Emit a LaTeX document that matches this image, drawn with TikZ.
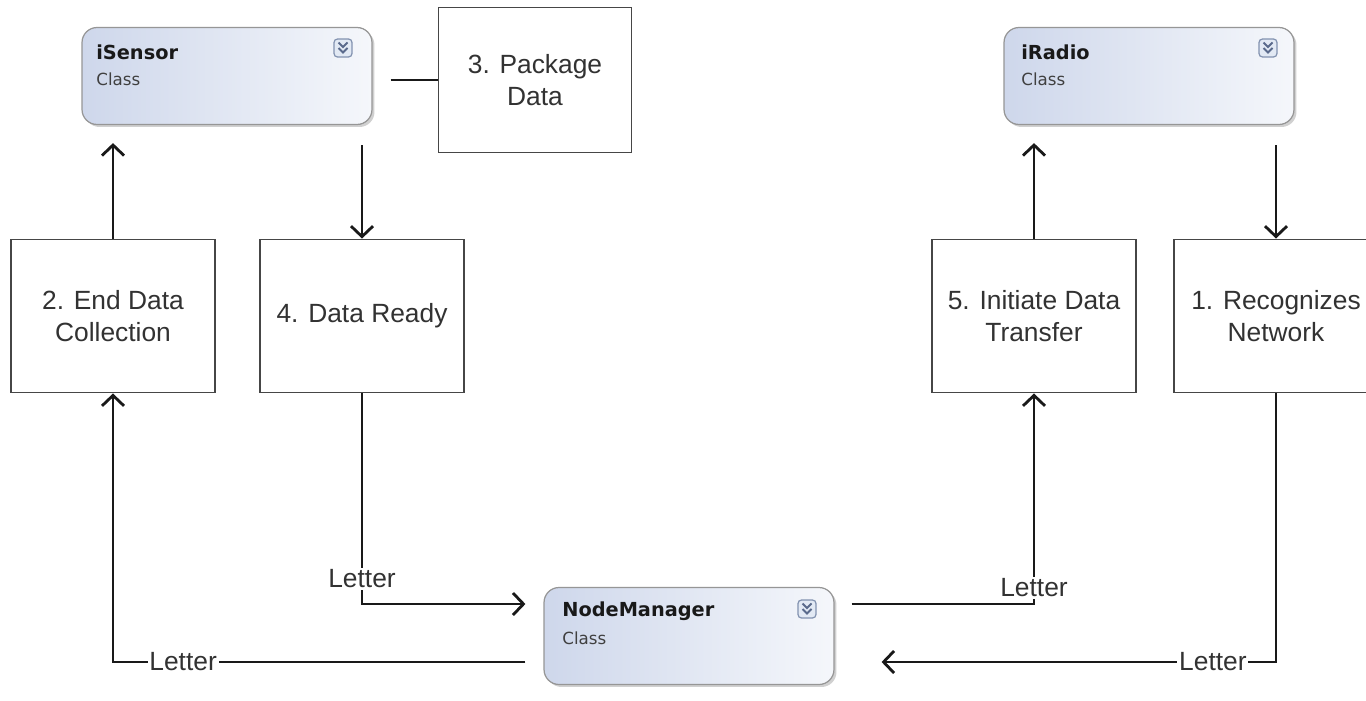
\documentclass[tikz,border=0pt]{standalone}
\usepackage{fontspec}
\setmainfont{Liberation Sans}
\newfontfamily\classfont{DejaVu Sans}
\usetikzlibrary{arrows.meta,calc,shadows}

\definecolor{clsleft}{RGB}{206,215,235}
\definecolor{clsright}{RGB}{245,247,251}
\definecolor{clsborder}{RGB}{150,150,150}
\definecolor{boxborder}{RGB}{70,70,70}
\definecolor{labeltext}{RGB}{50,50,50}
\definecolor{iconfill}{RGB}{226,233,244}
\definecolor{iconline}{RGB}{130,146,176}
\definecolor{iconmark}{RGB}{90,106,140}

\tikzset{
  classbox/.style={rectangle, rounded corners=0.3cm, draw=clsborder, line width=0.7pt,
    left color=clsleft, right color=clsright, minimum width=5.8cm, minimum height=1.94cm,
    drop shadow={shadow xshift=0.05cm, shadow yshift=-0.05cm, opacity=0.3, fill=black!60}},
  classname/.style={anchor=west, inner sep=0pt, text=black!90,
    font=\classfont\bfseries\fontsize{11}{13}\selectfont},
  classkind/.style={anchor=west, inner sep=0pt, text=black!75,
    font=\classfont\fontsize{9.5}{11}\selectfont},
  stepbox/.style={rectangle, draw=boxborder, line width=1.1pt, fill=white,
    minimum width=4.08cm, minimum height=3.06cm, align=center, text=labeltext,
    font=\fontsize{15}{18}\selectfont},
  letter/.style={fill=white, inner sep=1pt, text=labeltext, font=\fontsize{15}{18}\selectfont},
  flow/.style={line width=1.6pt, draw=black!90},
  expander/.pic={
    \draw[rounded corners=0.07cm, fill=iconfill, draw=iconline, line width=0.7pt] (-9,-9) rectangle (9,9);
    \draw[iconmark, line width=1.1pt] (-4.5,-5.5) -- (0,-1) -- (4.5,-5.5) (-4.5,0) -- (0,4.5) -- (4.5,0);
  }
}

\begin{document}
\begin{tikzpicture}[x=0.02cm, y=-0.02cm, >={Straight Barb[length=0.21cm, width=0.44cm]}]
    \useasboundingbox (0,0) rectangle (1366,700);
    \fill[white] (0,0) rectangle (1366,700);

    % classes
    \node[classbox] (sensor) at (227,76) {};
    \node[classname] (sensorname) at (96,52) {iSensor};
    \node[classkind] (sensorkind) at (96,79) {Class};
    \pic at (343,48) {expander};

    \node[classbox] (radio) at (1149,76) {};
    \node[classname] (radioname) at (1021,52) {iRadio};
    \node[classkind] (radiokind) at (1021,79) {Class};
    \pic at (1268,48) {expander};

    \node[classbox] (manager) at (689,636) {};
    \node[classname] (managername) at (562,611) {NodeManager};
    \node[classkind] (managerkind) at (562,638) {Class};
    \pic at (807,609) {expander};

    % steps
    \node[stepbox, minimum width=3.86cm, minimum height=2.9cm] (pack) at (535,80) {3. Package\\Data};
    \node[stepbox] (collect) at (113,316) {2. End Data\\Collection};
    \node[stepbox] (ready) at (362,316) {4. Data Ready};
    \node[stepbox] (transfer) at (1034,316) {5. Initiate Data\\Transfer};
    \node[stepbox] (recog) at (1276,316) {1. Recognizes\\Network};

    \draw[flow, ->] (collect.north) -- ($(collect.north |- sensor.south)+(0,18)$);
    \draw[flow, ->] ($(ready.north |- sensor.south)+(0,20)$) -- (ready.north);
    \draw[flow, ->] (transfer.north) -- ($(transfer.north |- radio.south)+(0,18)$);
    \draw[flow, ->] ($(recog.north |- radio.south)+(0,20)$) -- (recog.north);
    \draw[flow] ($(sensor.east |- pack.west)+(18,0)$) -- (pack.west);

    % letters
    \draw[flow, ->] (ready.south) |- node[letter, pos=0.44] {Letter} ($(manager.west)+(-18,-32)$);
    \draw[flow, ->] ($(manager.west)+(-18,26)$) -| node[letter, pos=0.415] {Letter} (collect.south);
    \draw[flow, ->] ($(manager.east)+(17,-32)$) -| node[letter, pos=0.5, yshift=0.32cm] {Letter} (transfer.south);
    \draw[flow, ->] (recog.south) |- node[letter, pos=0.58] {Letter} ($(manager.east)+(47,26)$);
\end{tikzpicture}
\end{document}
